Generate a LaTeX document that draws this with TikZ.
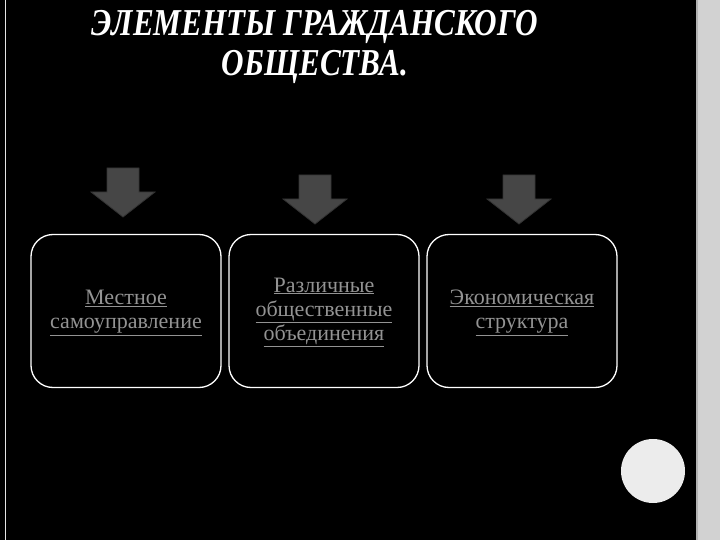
\documentclass[tikz,border=0pt]{standalone}
\usepackage{fontspec}
\setmainfont{Liberation Serif}
\newfontfamily\ttlfont{Liberation Serif Bold Italic}
\begin{document}
\begin{tikzpicture}[x=1pt,y=-1pt,
  box/.style={draw=white,line width=1.3pt,rounded corners=22pt,minimum width=190pt,minimum height=153pt,inner sep=0pt},
  lbl/.style={text=gray!85,font=\fontsize{22}{24}\selectfont,align=center},
  arr/.style={fill=gray!55!black,draw=gray!40!black,line width=0.8pt}]
\useasboundingbox (0,0) rectangle (720,540);
\fill[black] (0,0) rectangle (720,540);
\fill[gray!35] (697,0) rectangle (720,540);
\draw[gray!60,line width=2pt] (697,0) -- (697,540);
\draw[white!80!gray,line width=1pt] (5,0) -- (5,540);
\fill[gray!15] (653,471) circle (32);
\node[text=white,font=\ttlfont\fontsize{38}{40}\selectfont,align=center,xscale=0.82] (title) at (315,47) {ЭЛЕМЕНТЫ ГРАЖДАНСКОГО\\ОБЩЕСТВА.};
\foreach \n/\x/\y in {a1/123/168,a2/315/175,a3/519/175}{
  \coordinate (\n) at (\x,\y);
  \draw[arr] ([xshift=-16pt]\n) -- ++(32,0) -- ++(0,24) -- ++(16,0) -- ++(-32,25) -- ++(-32,-25) -- ++(16,0) -- cycle;
}
\node[box] (b1) at (126,311) {};
\node[box] (b2) at (324,311) {};
\node[box] (b3) at (522,311) {};
\node[lbl] (t1) at (126,313) {\underline{Местное}\\\underline{самоуправление}};
\node[lbl] (t2) at (324,312) {\underline{Различные}\\\underline{общественные}\\\underline{объединения}};
\node[lbl] (t3) at (522,313) {\underline{Экономическая}\\\underline{структура}};
\end{tikzpicture}
\end{document}
